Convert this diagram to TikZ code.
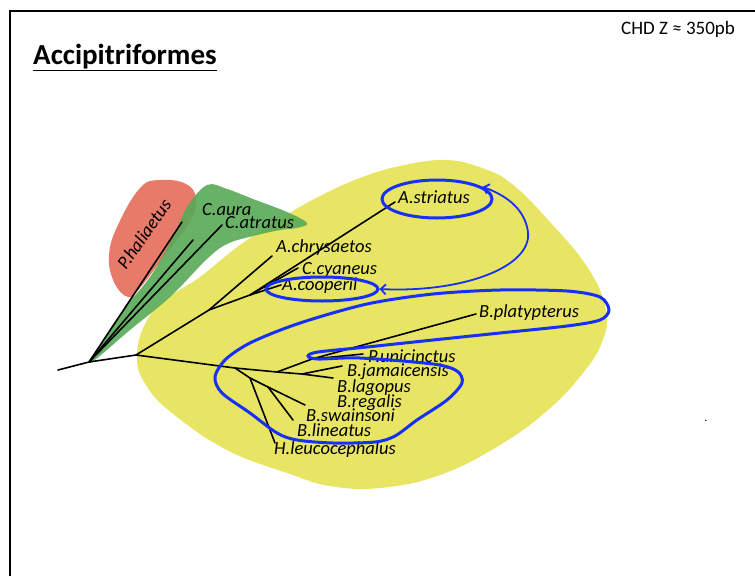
\documentclass[tikz,border=0pt]{standalone}
\usepackage{fontspec}
\setmainfont{Carlito}
\usetikzlibrary{arrows.meta,shapes.geometric}

\definecolor{hawkyellow}{RGB}{232,229,100}
\definecolor{vulturegreen}{RGB}{88,170,88}
\definecolor{ospreyred}{RGB}{232,122,106}
\definecolor{loopblue}{RGB}{22,48,245}

\begin{document}
\begin{tikzpicture}[x=1pt,y=-1pt,
  branch/.style={line width=1.6pt, line cap=round},
  taxonfont/.style={font=\fontsize{18.5}{21}\selectfont\itshape},
  taxon/.style={taxonfont, anchor=base west, inner sep=0pt},
  ring/.style={draw=loopblue, line width=3pt},
  ringnode/.style={ring, ellipse, inner sep=0pt},
  swap/.style={draw=loopblue, line width=1.8pt, {Straight Barb[length=5pt,width=10pt]}-{Straight Barb[length=5pt,width=10pt]}},
]
\useasboundingbox (0,0) rectangle (755,576);
\fill[white] (0,0) rectangle (755,576);

% slide frame
\draw[line width=1.3pt] (10,576) -- (10,11) -- (755,11);

% headings
\node[anchor=base west, inner sep=0pt, font=\fontsize{29}{33}\selectfont\bfseries] (title) at (33,64) {\underline{Accipitriformes}};
\node[anchor=base west, inner sep=0pt, font=\fontsize{19}{22}\selectfont] (chd) at (621,34) {CHD Z ≈ 350pb};
\node[inner sep=0pt, font=\fontsize{12}{14}\selectfont] (dot) at (706,421) {.};

% clade backgrounds
\fill[hawkyellow] plot[smooth cycle, tension=0.7] coordinates {
  (137,357) (146,322) (168,298) (200,277) (240,245) (283,217) (320,196)
  (360,178) (400,166) (445,160) (482,168) (512,184) (550,222) (588,268)
  (606,310) (602,342) (583,373) (548,410) (500,445) (440,475) (380,488)
  (330,486) (290,474) (227,450) (172,413) (146,385)};
\fill[ospreyred] plot[smooth cycle, tension=0.7] coordinates {
  (140,188) (160,180) (186,184) (196,199) (190,222) (165,255)
  (140,288) (128,297) (114,282) (109,255) (118,225)};
\fill[vulturegreen, opacity=0.9] plot[smooth cycle, tension=0.6] coordinates {
  (207,185) (227,189) (253,199) (287,212) (307,223) (297,228) (280,230)
  (253,236) (227,244) (207,259) (170,297) (130,330) (92,362)
  (97,350) (123,310) (150,277) (173,237) (187,207)};

% tree: internal points and tips
\coordinate (r0) at (58,370);
\coordinate (n1) at (89,362);
\coordinate (n2a) at (136,355);
\coordinate (n2) at (209,310);
\coordinate (n3) at (250,295);
\coordinate (n4) at (235,368);
\coordinate (n5) at (277,372);
\coordinate (n5b) at (302,374);
\coordinate (n6) at (250,378);
\coordinate (n7) at (268,387);
\coordinate (n8) at (312,359);

\coordinate (thal) at (182,222);
\coordinate (taura) at (193,240);
\coordinate (tatra) at (222,225);
\coordinate (tchry) at (272,256);
\coordinate (tstri) at (395,202);
\coordinate (tcyan) at (298,268);
\coordinate (tcoop) at (281,285);
\coordinate (tplat) at (476,314);
\coordinate (tunic) at (363,354);
\coordinate (tjama) at (342,366);
\coordinate (tlago) at (333,378);
\coordinate (tswai) at (305,405);
\coordinate (tline) at (293,420);
\coordinate (tleuc) at (275,443);

\draw[branch] (r0) -- (n1);
\draw[branch] (n1) -- (thal);
\draw[branch] (n1) -- (taura);
\draw[branch] (n1) -- (tatra);
\draw[branch] (n1) -- (n2a);
\draw[branch] (n2a) -- (n2);
\draw[branch] (n2) -- (tchry);
\draw[branch] (n2) -- (n3);
\draw[branch] (n3) -- (tstri);
\draw[branch] (n3) -- (tcyan);
\draw[branch] (n3) -- (tcoop);
\draw[branch] (n2a) -- (n4);
\draw[branch] (n4) -- (n5);
\draw[branch] (n5) -- (n5b);
\draw[branch] (n5b) -- (tlago);
\draw[branch] (n5b) -- (tjama);
\draw[branch] (n5) -- (n8);
\draw[branch] (n8) -- (tplat);
\draw[branch] (n8) -- (tunic);
\draw[branch] (n4) -- (n6);
\draw[branch] (n6) -- (tleuc);
\draw[branch] (n6) -- (n7);
\draw[branch] (n7) -- (tswai);
\draw[branch] (n7) -- (tline);

% taxon labels
\node[taxonfont, inner sep=0pt, rotate=55] (hal) at (144,234) {P.haliaetus};
\node[taxon] (aura) at (202,215) {C.aura};
\node[taxon] (atra) at (225,228) {C.atratus};
\node[taxon] (chry) at (276,252) {A.chrysaetos};
\node[taxon] (cyan) at (302,274) {C.cyaneus};
\node[taxon] (coop) at (282,290) {A.cooperii};
\node[taxon] (stri) at (398,203) {A.striatus};
\node[taxon] (plat) at (479,317) {B.platypterus};
\node[taxon] (unic) at (368,362) {P.unicinctus};
\node[taxon] (jama) at (347,376) {B.jamaicensis};
\node[taxon] (lago) at (337,392) {B.lagopus};
\node[taxon] (rega) at (337,407) {B.regalis};
\node[taxon] (swai) at (306,421) {B.swainsoni};
\node[taxon] (line) at (297,436) {B.lineatus};
\node[taxon] (leuc) at (274,454) {H.leucocephalus};

% blue highlights
\node[ringnode, minimum width=110pt, minimum height=38pt] (striring) at (437,199) {};
\node[ringnode, minimum width=112pt, minimum height=24pt] (coopring) at (322,289) {};
\draw[swap] (coopring.east) .. controls (460,293) and (532,268) .. (528,232)
  .. controls (525,210) and (508,196) .. (striring.15);
\draw[ring] plot[smooth cycle, tension=0.5] coordinates {
  (215,377) (226,359) (252,342) (300,323) (367,304) (433,294) (500,290)
  (567,291) (600,297) (609,310) (600,320) (567,326) (500,333) (433,340)
  (367,347) (318,352) (308,356) (318,359) (360,358) (433,364) (457,371)
  (462,383) (447,400) (417,420) (395,436) (375,442) (333,443) (297,440)
  (277,433) (250,413) (222,393)};
\end{tikzpicture}
\end{document}
